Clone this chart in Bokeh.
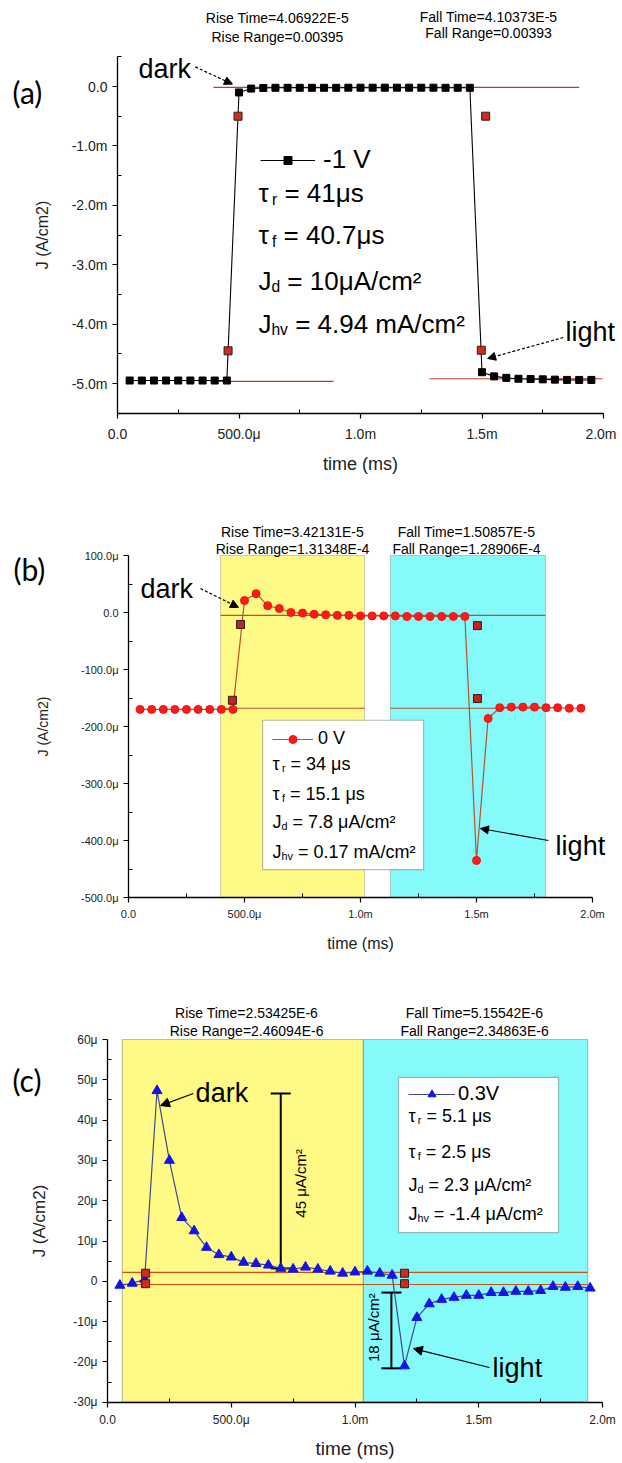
from math import pi
from bokeh.plotting import figure
from bokeh.layouts import column
from bokeh.models import (Range1d, FixedTicker, Label, Arrow, NormalHead, BoxAnnotation,
                          Whisker, TeeHead, ColumnDataSource, Legend, LegendItem)
from bokeh.embed import file_html
from bokeh.resources import INLINE

FONT = "Liberation Sans"
NB = "\u00a0"

# ---------------- data ----------------
t_us = [50, 100, 150, 200, 250, 300, 350, 400, 450, 500, 550, 600, 650, 700, 750, 800, 850,
        900, 950, 1000, 1050, 1100, 1150, 1200, 1250, 1300, 1350, 1400, 1450, 1500, 1550,
        1600, 1650, 1700, 1750, 1800, 1850, 1900, 1950]

# (a) -1 V, current density in uA/cm2
a_j = [-4950, -4950, -4950, -4950, -4950, -4950, -4950, -4950, -4950,
       -100, -35, -25, -22, -22, -22, -22, -22, -22, -20, -20, -20, -20, -20, -20, -20, -20,
       -22, -22, -22,
       -4810, -4880, -4905, -4920, -4925, -4930, -4935, -4940, -4940, -4940]
a_mark_t = [455, 496, 1497, 1515]
a_mark_j = [-4450, -500, -4440, -500]
a_lvl_x0 = [395, 383, 1284]
a_lvl_x1 = [1900, 889, 1996]
a_lvl_j = [-15, -4965, -4920]

# (b) 0 V
b_j = [-170, -170, -170, -170, -170, -170, -170, -170, -170,
       21, 33, 12, 7, 0, -1, -3, -4, -5, -5, -6, -6, -6, -6, -7, -7, -7, -7, -7, -7,
       -435, -186, -167, -166, -166, -166, -167, -167, -168, -168]
b_mark_t = [448, 483, 1504, 1504]
b_mark_j = [-154, -21, -23, -151]
b_lvl_x0 = [397, 397, 1129]
b_lvl_x1 = [1797, 1017, 1797]
b_lvl_j = [-5, -168, -168]
b_rise_win = [397, 1017]
b_fall_win = [1129, 1797]

# (c) 0.3 V
c_j = [-1.0, -0.5, 0.5, 47.3, 30.0, 15.8, 12.5, 8.4, 6.6, 6.0, 4.7, 4.4, 4.0, 3.2, 3.0, 3.5,
       3.0, 2.5, 2.0, 2.3, 2.5, 2.0, 1.5, -21.0, -9.0, -5.6, -4.5, -4.0, -3.5, -3.5, -2.8,
       -2.8, -2.5, -2.5, -2.3, -1.3, -1.5, -1.3, -1.7]
c_mark_t = [154, 154, 1200, 1200]
c_mark_j = [2.0, -0.6, 2.0, -0.6]
c_lvl_x0 = [60, 60]
c_lvl_x1 = [1940, 1940]
c_lvl_j = [2.2, -0.8]
c_rise_win = [60, 1034]
c_fall_win = [1034, 1940]
c_bar_t = [700, 1147]
c_bar_lo = [3.2, -21.6]
c_bar_hi = [46.6, -2.8]

x_ticks = [0, 500, 1000, 1500, 2000]
x_minor = [250, 750, 1250, 1750]
x_labels = ["0.0", "500.0\u03bc", "1.0m", "1.5m", "2.0m"]

a_yticks = [-5000, -4000, -3000, -2000, -1000, 0]
a_yminor = [-4500, -3500, -2500, -1500, -500, 500]
a_ylabels = ["-5.0m", "-4.0m", "-3.0m", "-2.0m", "-1.0m", "0.0"]

b_yticks = [-500, -400, -300, -200, -100, 0, 100]
b_yminor = [-450, -350, -250, -150, -50, 50]
b_ylabels = ["-500.0\u03bc", "-400.0\u03bc", "-300.0\u03bc", "-200.0\u03bc", "-100.0\u03bc", "0.0", "100.0\u03bc"]

c_yticks = [-30, -20, -10, 0, 10, 20, 30, 40, 50, 60]
c_yminor = [-25, -15, -5, 5, 15, 25, 35, 45, 55]
c_ylabels = ["-30\u03bc", "-20\u03bc", "-10\u03bc", "0", "10\u03bc", "20\u03bc", "30\u03bc", "40\u03bc", "50\u03bc", "60\u03bc"]

# ---------------- helpers ----------------
WID = {' ': 278, NB: 278, '=': 584, '.': 278, '\u03bc': 576, 's': 500, 'A': 667, '/': 278,
       'c': 500, 'm': 833, '\u00b2': 333, '\u03c4': 520, 'r': 333, 'f': 278, 'd': 556,
       'h': 556, 'v': 500, 'J': 500, '-': 333, 'V': 667}


def tw(s, fs):
    return sum(WID.get(ch, 556) for ch in s) * fs / 1000.0


def rich(p, x, y, parts, fs):
    off = 0.0
    for txt, sub in parts:
        size = fs * 0.6 if sub else fs
        yo = -0.22 * fs if sub else 0.0
        p.add_layout(Label(x=x, y=y, x_offset=off, y_offset=yo, text=txt, text_font=FONT,
                           text_font_size=f"{size:.1f}px", text_color="black",
                           text_baseline="alphabetic", text_align="left"))
        off += tw(txt, size)


def label(p, x, y, text, fs, align="left", font=FONT, angle=0.0, color="black"):
    p.add_layout(Label(x=x, y=y, text=text, text_font=font, text_font_size=f"{fs}px",
                       text_color=color, text_align=align, text_baseline="middle", angle=angle))


def arrow(p, x0, y0, x1, y1, dash="solid", size=9):
    p.add_layout(Arrow(x_start=x0, y_start=y0, x_end=x1, y_end=y1, line_color="black",
                       line_width=1.2, line_dash=dash,
                       end=NormalHead(size=size, fill_color="black", line_color="black")))


CANVAS_W = 616


def make_fig(canvas_h, page_top, x0_px, px_per_x, y_ref_px, y_ref_val, px_per_y,
             ybounds, yticks, yminor, ylabels, tick_fs, lab_fs, xlab_fs,
             ylab_standoff, xlab_standoff, xtick_standoff):
    # the frame covers the whole canvas; axes are pinned at the data origin
    left_page, right_page = 0, CANVAS_W
    xr = Range1d((left_page - x0_px) / px_per_x, (right_page - x0_px) / px_per_x)
    ytop = y_ref_val + (y_ref_px - page_top) / px_per_y
    ybot = y_ref_val - (page_top + canvas_h - y_ref_px) / px_per_y
    p = figure(frame_width=CANVAS_W, frame_height=canvas_h, x_range=xr,
               y_range=Range1d(ybot, ytop), output_backend="svg", toolbar_location=None,
               min_border=0, background_fill_color="white", border_fill_color="white")
    p.outline_line_color = None
    p.grid.visible = False
    p.xaxis.ticker = FixedTicker(ticks=x_ticks, minor_ticks=x_minor)
    p.xaxis.major_label_overrides = dict(zip(x_ticks, x_labels))
    p.yaxis.ticker = FixedTicker(ticks=yticks, minor_ticks=yminor)
    p.yaxis.major_label_overrides = dict(zip(yticks, ylabels))
    p.xaxis.axis_label = "time (ms)"
    p.yaxis.axis_label = "J (A/cm2)"
    p.xaxis.fixed_location = ybounds[0]
    p.xaxis.bounds = (x_ticks[0], x_ticks[-1])
    p.yaxis.fixed_location = 0
    p.yaxis.bounds = ybounds
    for ax in (p.xaxis[0], p.yaxis[0]):
        ax.axis_line_width = 1.3
        ax.axis_line_color = "black"
        ax.major_tick_line_color = "black"
        ax.minor_tick_line_color = "black"
        ax.major_tick_line_width = 1.2
        ax.major_tick_out = 5
        ax.major_tick_in = 0
        ax.minor_tick_in = 4
        ax.minor_tick_out = 0
        ax.major_label_text_font = FONT
        ax.major_label_text_font_size = f"{tick_fs}px"
        ax.major_label_text_color = "#222222"
        ax.axis_label_text_font = FONT
        ax.axis_label_text_font_style = "normal"
        ax.axis_label_text_color = "#222222"
    p.yaxis.axis_label_text_font_size = f"{lab_fs}px"
    p.xaxis.axis_label_text_font_size = f"{xlab_fs}px"
    p.yaxis.axis_label_standoff = ylab_standoff
    p.xaxis.axis_label_standoff = xlab_standoff
    p.xaxis.major_label_standoff = xtick_standoff
    return p


def add_legend(p, renderers, text, fs, loc, glyph_w, standoff):
    leg = Legend(items=[LegendItem(label=text, renderers=renderers)], location=loc,
                 background_fill_alpha=0, border_line_color=None, padding=0, margin=0,
                 spacing=0, glyph_width=glyph_w, glyph_height=20, label_height=20,
                 label_standoff=standoff, label_text_font=FONT,
                 label_text_font_size=f"{fs}px", label_text_color="black")
    p.add_layout(leg)


# ---------------- panel (a) ----------------
pa = make_fig(488, 0, 117, 0.243, 86, 0, 0.0594, (-5500, 500), a_yticks, a_yminor, a_ylabels,
              14, 16, 18, 18, 8, 8)
pa.segment(x0=a_lvl_x0, y0=a_lvl_j, x1=a_lvl_x1, y1=a_lvl_j, line_color="#c0392b", line_width=1.2)
la = pa.line(t_us, a_j, line_color="black", line_width=1.1)
sa = pa.scatter(t_us, a_j, marker="square", size=7, fill_color="black", line_color="black")
pa.scatter(a_mark_t, a_mark_j, marker="square", size=8, fill_color="#d42a1e", line_color="#222222")
add_legend(pa, [la, sa], "-1 V", 26, (260, 313), 55, 8)

label(pa, 658, 1145, "Rise Time=4.06922E-5", 14, "center")
label(pa, 658, 825, "Rise Range=0.00395", 14, "center")
label(pa, 1527, 1178, "Fall Time=4.10373E-5", 14, "center")
label(pa, 1527, 909, "Fall Range=0.00393", 14, "center")
label(pa, -432, -101, "(a)", 30, "left", font="Lato")
label(pa, 86, 295, "dark", 27)
arrow(pa, 320, 330, 473, 40, dash="3 2", size=8)
label(pa, 1844, -4141, "light", 27)
arrow(pa, 1835, -4226, 1523, -4579, dash="3 2", size=8)
rich(pa, 580, -1801, [("\u03c4", False), ("r", True), (NB + "= 41\u03bcs", False)], 26)
rich(pa, 580, -2508, [("\u03c4", False), ("f", True), (NB + "= 40.7\u03bcs", False)], 26)
rich(pa, 580, -3266, [("J", False), ("d", True), (NB + "= 10\u03bcA/cm\u00b2", False)], 26)
rich(pa, 580, -3990, [("J", False), ("hv", True), (NB + "= 4.94 mA/cm\u00b2", False)], 26)

# ---------------- panel (b) ----------------
pb = make_fig(480, 488, 128, 0.232, 612, 0, 0.57, (-500, 100), b_yticks, b_yminor, b_ylabels,
              11, 14, 16, 27, 12, 5)
for win, col in ((b_rise_win, "#fffa85"), (b_fall_win, "#85fafa")):
    pb.add_layout(BoxAnnotation(left=win[0], right=win[1], top=100, bottom=-500, fill_color=col,
                                fill_alpha=1, line_color="#555555", line_width=1, level="underlay"))
pb.add_layout(BoxAnnotation(left=578, right=1272, top=-189, bottom=-451, fill_color="white",
                            fill_alpha=1, line_color="#222222", line_width=1.2, level="underlay"))
pb.segment(x0=b_lvl_x0, y0=b_lvl_j, x1=b_lvl_x1, y1=b_lvl_j, line_color="#b5522f", line_width=1.2)
lb = pb.line(t_us, b_j, line_color="#b5522f", line_width=1.2)
sb = pb.scatter(t_us, b_j, marker="circle", size=8, fill_color="#ff1a1a", line_color="#ee1111")
pb.scatter(b_mark_t, b_mark_j, marker="square", size=8, fill_color="#c8201a", line_color="#222222")
add_legend(pb, [lb, sb], "0 V", 18, (272, 219), 41, 5)

label(pb, 707, 142, "Rise Time=3.42131E-5", 14, "center")
label(pb, 707, 112, "Rise Range=1.31348E-4", 14, "center")
label(pb, 1457, 142, "Fall Time=1.50857E-5", 14, "center")
label(pb, 1457, 112, "Fall Range=1.28906E-4", 14, "center")
label(pb, -496, 77, "(b)", 30, "left", font="Lato")
label(pb, 52, 42, "dark", 27)
arrow(pb, 310, 42, 474, 9, dash="3 2", size=8)
label(pb, 1841, -409, "light", 27)
arrow(pb, 1810, -400, 1517, -379, size=8)
rich(pb, 621, -265, [("\u03c4", False), ("r", True), (NB + "= 34 \u03bcs", False)], 18)
rich(pb, 621, -318, [("\u03c4", False), ("f", True), (NB + "= 15.1 \u03bcs", False)], 18)
rich(pb, 621, -368, [("J", False), ("d", True), (NB + "= 7.8 \u03bcA/cm\u00b2", False)], 18)
rich(pb, 621, -421, [("J", False), ("hv", True), (NB + "= 0.17 mA/cm\u00b2", False)], 18)

# ---------------- panel (c) ----------------
pc = make_fig(494, 968, 107, 0.2475, 1039, 60, 4.03, (-30, 60), c_yticks, c_yminor, c_ylabels,
              12, 17, 19, 21, 7, 6)
for win, col in ((c_rise_win, "#fffa85"), (c_fall_win, "#85fafa")):
    pc.add_layout(BoxAnnotation(left=win[0], right=win[1], top=60, bottom=-30, fill_color=col,
                                fill_alpha=1, line_color="#333333", line_width=1.2, level="underlay"))
pc.add_layout(BoxAnnotation(left=1176, right=1822, top=50.6, bottom=12.1, fill_color="white",
                            fill_alpha=1, line_color="#222222", line_width=1.2, level="underlay"))
pc.segment(x0=c_lvl_x0, y0=c_lvl_j, x1=c_lvl_x1, y1=c_lvl_j, line_color="#d04a1a", line_width=1.2)
lc = pc.line(t_us, c_j, line_color="#3c4a8c", line_width=1.2)
sc = pc.scatter(t_us, c_j, marker="triangle", size=10, fill_color="#1414e6", line_color="#1414e6")
pc.scatter(c_mark_t, c_mark_j, marker="square", size=8, fill_color="#d42a1e", line_color="#222222")
bars = ColumnDataSource(dict(t=c_bar_t, lo=c_bar_lo, hi=c_bar_hi))
pc.add_layout(Whisker(source=bars, base="t", lower="lo", upper="hi", dimension="height",
                      line_color="black", line_width=2,
                      upper_head=TeeHead(size=20, line_width=2, line_color="black"),
                      lower_head=TeeHead(size=20, line_width=2, line_color="black")))
add_legend(pc, [lc, sc], "0.3V", 20, (408, 357), 47, 3)

label(pc, 562, 66.5, "Rise Time=2.53425E-6", 14, "center")
label(pc, 562, 62.2, "Rise Range=2.46094E-6", 14, "center")
label(pc, 1483, 66.5, "Fall Time=5.15542E-6", 14, "center")
label(pc, 1483, 62.2, "Fall Range=2.34863E-6", 14, "center")
label(pc, -384, 50, "(c)", 30, "left", font="Lato")
label(pc, 356, 46.8, "dark", 27)
arrow(pc, 347, 46.6, 214, 43.6, size=9)
label(pc, 1556, -21.4, "light", 27)
arrow(pc, 1543, -21.4, 1236, -16.7, size=9)
label(pc, 780, 24.3, "45 \u03bcA/cm\u00b2", 15, "center", angle=pi / 2)
label(pc, 1075, -11.5, "18 \u03bcA/cm\u00b2", 15, "center", angle=pi / 2)
rich(pc, 1216, 40.9, [("\u03c4", False), ("r", True), (NB + "= 5.1 \u03bcs", False)], 18)
rich(pc, 1216, 32.0, [("\u03c4", False), ("f", True), (NB + "= 2.5 \u03bcs", False)], 18)
rich(pc, 1216, 24.0, [("J", False), ("d", True), (NB + "= 2.3 \u03bcA/cm\u00b2", False)], 18)
rich(pc, 1216, 16.6, [("J", False), ("hv", True), (NB + "= -1.4 \u03bcA/cm\u00b2", False)], 18)

page = column(pa, pb, pc, spacing=0)
open("out.html", "w").write(file_html(page, INLINE))
